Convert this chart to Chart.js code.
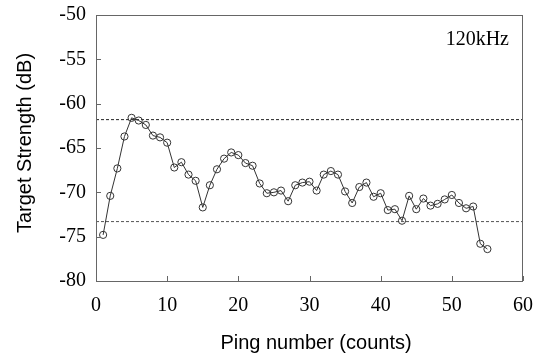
<!DOCTYPE html>
<html>
<head>
<meta charset="utf-8">
<script src="https://cdn.jsdelivr.net/npm/chart.js@4"></script>
<style>
  html, body { margin: 0; padding: 0; background: #fff; }
  #wrap { width: 543px; height: 355px; }
</style>
</head>
<body>
<div id="wrap"><canvas id="myChart"></canvas></div>
<script>
const pings = [
  1, 2, 3, 4, 5, 6, 7, 8, 9, 10,
  11, 12, 13, 14, 15, 16, 17, 18, 19, 20,
  21, 22, 23, 24, 25, 26, 27, 28, 29, 30,
  31, 32, 33, 34, 35, 36, 37, 38, 39, 40,
  41, 42, 43, 44, 45, 46, 47, 48, 49, 50,
  51, 52, 53, 54, 55,
];
const strength = [
  -74.8, -70.4, -67.3, -63.7, -61.6, -61.9, -62.4, -63.6, -63.8, -64.4,
  -67.2, -66.6, -68.0, -68.7, -71.7, -69.2, -67.4, -66.2, -65.5, -65.8,
  -66.7, -67.0, -69.0, -70.1, -70.0, -69.8, -71.0, -69.2, -68.9, -68.8,
  -69.8, -68.0, -67.6, -68.0, -69.9, -71.2, -69.4, -68.9, -70.5, -70.1,
  -72.0, -71.9, -73.2, -70.4, -71.9, -70.7, -71.5, -71.3, -70.8, -70.3,
  -71.2, -71.8, -71.6, -75.8, -76.4,
];
const refX = [0, 60];
const upperRef = [-61.8, -61.8];
const lowerRef = [-73.3, -73.3];
const xTicks = [0, 10, 20, 30, 40, 50, 60];
const yTicks = [-80, -75, -70, -65, -60, -55, -50];
const label = "120kHz";
const xTitle = "Ping number (counts)";
const yTitle = "Target Strength (dB)";

const serif = "'Liberation Serif', 'Times New Roman', serif";
const sans = "'Liberation Sans', Arial, sans-serif";

// frame, inward ticks, axis titles and the frequency note
const framePlugin = {
  id: "frame",
  afterDraw(chart) {
    const { ctx, chartArea: a, scales } = chart;
    ctx.save();
    ctx.strokeStyle = "#666";
    ctx.lineWidth = 1;
    ctx.strokeRect(a.left + 0.5, a.top + 0.5, a.right - a.left - 1, a.bottom - a.top);
    ctx.beginPath();
    xTicks.forEach((t) => {
      const x = Math.round(scales.x.getPixelForValue(t)) + 0.5;
      ctx.moveTo(x, a.bottom);
      ctx.lineTo(x, a.bottom - 5);
    });
    yTicks.forEach((t) => {
      const y = Math.round(scales.y.getPixelForValue(t)) + 0.5;
      ctx.moveTo(a.left, y);
      ctx.lineTo(a.left + 5, y);
    });
    ctx.stroke();

    ctx.fillStyle = "#000";
    ctx.textBaseline = "middle";
    ctx.font = "20px " + serif;
    ctx.textAlign = "right";
    ctx.fillText(label, a.right - 14, a.top + 25);

    ctx.font = "20px " + sans;
    ctx.textAlign = "center";
    ctx.fillText(xTitle, 316, 343);
    ctx.translate(25, 143);
    ctx.rotate(-Math.PI / 2);
    ctx.fillText(yTitle, 0, 0);
    ctx.restore();
  },
};

new Chart(document.getElementById("myChart"), {
  type: "line",
  data: {
    datasets: [
      {
        data: pings.map((p, i) => ({ x: p, y: strength[i] })),
        borderColor: "#333",
        borderWidth: 1,
        pointRadius: 3.6,
        pointBorderColor: "#333",
        pointBorderWidth: 1,
        pointBackgroundColor: "rgba(0,0,0,0)",
        tension: 0,
      },
      {
        data: refX.map((x, i) => ({ x: x, y: upperRef[i] })),
        borderColor: "#222",
        borderWidth: 1,
        borderDash: [3, 2],
        pointRadius: 0,
      },
      {
        data: refX.map((x, i) => ({ x: x, y: lowerRef[i] })),
        borderColor: "#555",
        borderWidth: 1,
        borderDash: [3, 2],
        pointRadius: 0,
      },
    ],
  },
  options: {
    responsive: true,
    maintainAspectRatio: false,
    animation: false,
    layout: { padding: { left: 0, right: 20, top: 15, bottom: 0 } },
    plugins: {
      legend: { display: false },
      tooltip: { enabled: false },
    },
    scales: {
      x: {
        type: "linear",
        min: 0,
        max: 60,
        grid: { display: false },
        border: { display: false },
        afterFit(scale) { scale.height = 74; },
        ticks: {
          stepSize: 10,
          color: "#000",
          padding: 5,
          maxRotation: 0,
          font: { family: serif, size: 20 },
        },
      },
      y: {
        min: -80,
        max: -50,
        grid: { display: false },
        border: { display: false },
        afterFit(scale) { scale.width = 96; },
        ticks: {
          stepSize: 5,
          color: "#000",
          padding: 2,
          font: { family: serif, size: 20 },
        },
      },
    },
  },
  plugins: [framePlugin],
});
</script>
</body>
</html>
